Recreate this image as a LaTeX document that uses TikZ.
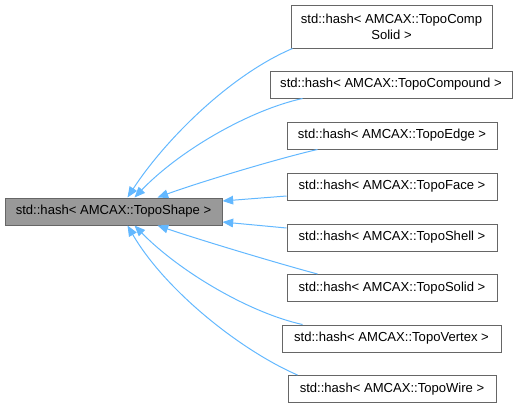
\documentclass[tikz,border=0pt]{standalone}
\usepackage{fontspec}
\setmainfont{Liberation Sans}
\usetikzlibrary{arrows.meta}
\definecolor{edgeblue}{HTML}{63B8FF}
\definecolor{boxline}{HTML}{666666}
\definecolor{mainfill}{HTML}{999999}
\tikzset{
  cls/.style={draw=boxline, line width=0.75pt, fill=white, inner sep=0pt, align=center,
    font=\fontsize{9.8}{12}\selectfont, minimum height=27*0.75pt},
  mainbox/.style={cls, fill=mainfill},
  edge/.style={draw=edgeblue, line width=0.75pt, -{Triangle[length=8pt, width=6.5pt]}},
}
\begin{document}
\begin{tikzpicture}[x=0.75pt, y=-0.75pt]
\useasboundingbox (0,0) rectangle (518,408);
\node[mainbox, minimum width=217*0.75pt] (main) at (113.5,211.5) {std::hash< AMCAX::TopoShape >};
\node[cls, minimum width=201*0.75pt, minimum height=43*0.75pt] (cs) at (391.5,26.5) {std::hash< AMCAX::TopoComp\\Solid >};
\node[cls, minimum width=242*0.75pt] (cp) at (391,84.5) {std::hash< AMCAX::TopoCompound >};
\node[cls, minimum width=210*0.75pt] (ed) at (392,135.5) {std::hash< AMCAX::TopoEdge >};
\node[cls, minimum width=210*0.75pt] (fa) at (392,186.5) {std::hash< AMCAX::TopoFace >};
\node[cls, minimum width=210*0.75pt] (sh) at (392,237.5) {std::hash< AMCAX::TopoShell >};
\node[cls, minimum width=210*0.75pt] (so) at (392,288) {std::hash< AMCAX::TopoSolid >};
\node[cls, minimum width=219*0.75pt] (ve) at (391.5,338.5) {std::hash< AMCAX::TopoVertex >};
\node[cls, minimum width=208*0.75pt] (wi) at (392,389) {std::hash< AMCAX::TopoWire >};

\draw[edge] ([xshift=2*0.75pt]cs.south west) .. controls (230,75) and (165,140) .. ([xshift=123*0.75pt]main.north west);
\draw[edge] ([xshift=33*0.75pt]cp.south west) .. controls (250,110) and (180,150) .. ([xshift=130*0.75pt]main.north west);
\draw[edge] ([xshift=31*0.75pt]ed.south west) .. controls (280,158) and (200,182) .. ([xshift=153*0.75pt]main.north west);
\draw[edge] ([yshift=-9.5*0.75pt]fa.west) -- ([yshift=10.5*0.75pt]main.east);
\draw[edge] ([yshift=9.5*0.75pt]sh.west) -- ([yshift=-10.5*0.75pt]main.east);
\draw[edge] ([xshift=31*0.75pt]so.north west) .. controls (280,264) and (200,240) .. ([xshift=153*0.75pt]main.south west);
\draw[edge] ([xshift=21*0.75pt]ve.north west) .. controls (250,313) and (180,272) .. ([xshift=130*0.75pt]main.south west);
\draw[edge] ([xshift=10*0.75pt]wi.north west) .. controls (240,350) and (165,290) .. ([xshift=123*0.75pt]main.south west);
\end{tikzpicture}
\end{document}
